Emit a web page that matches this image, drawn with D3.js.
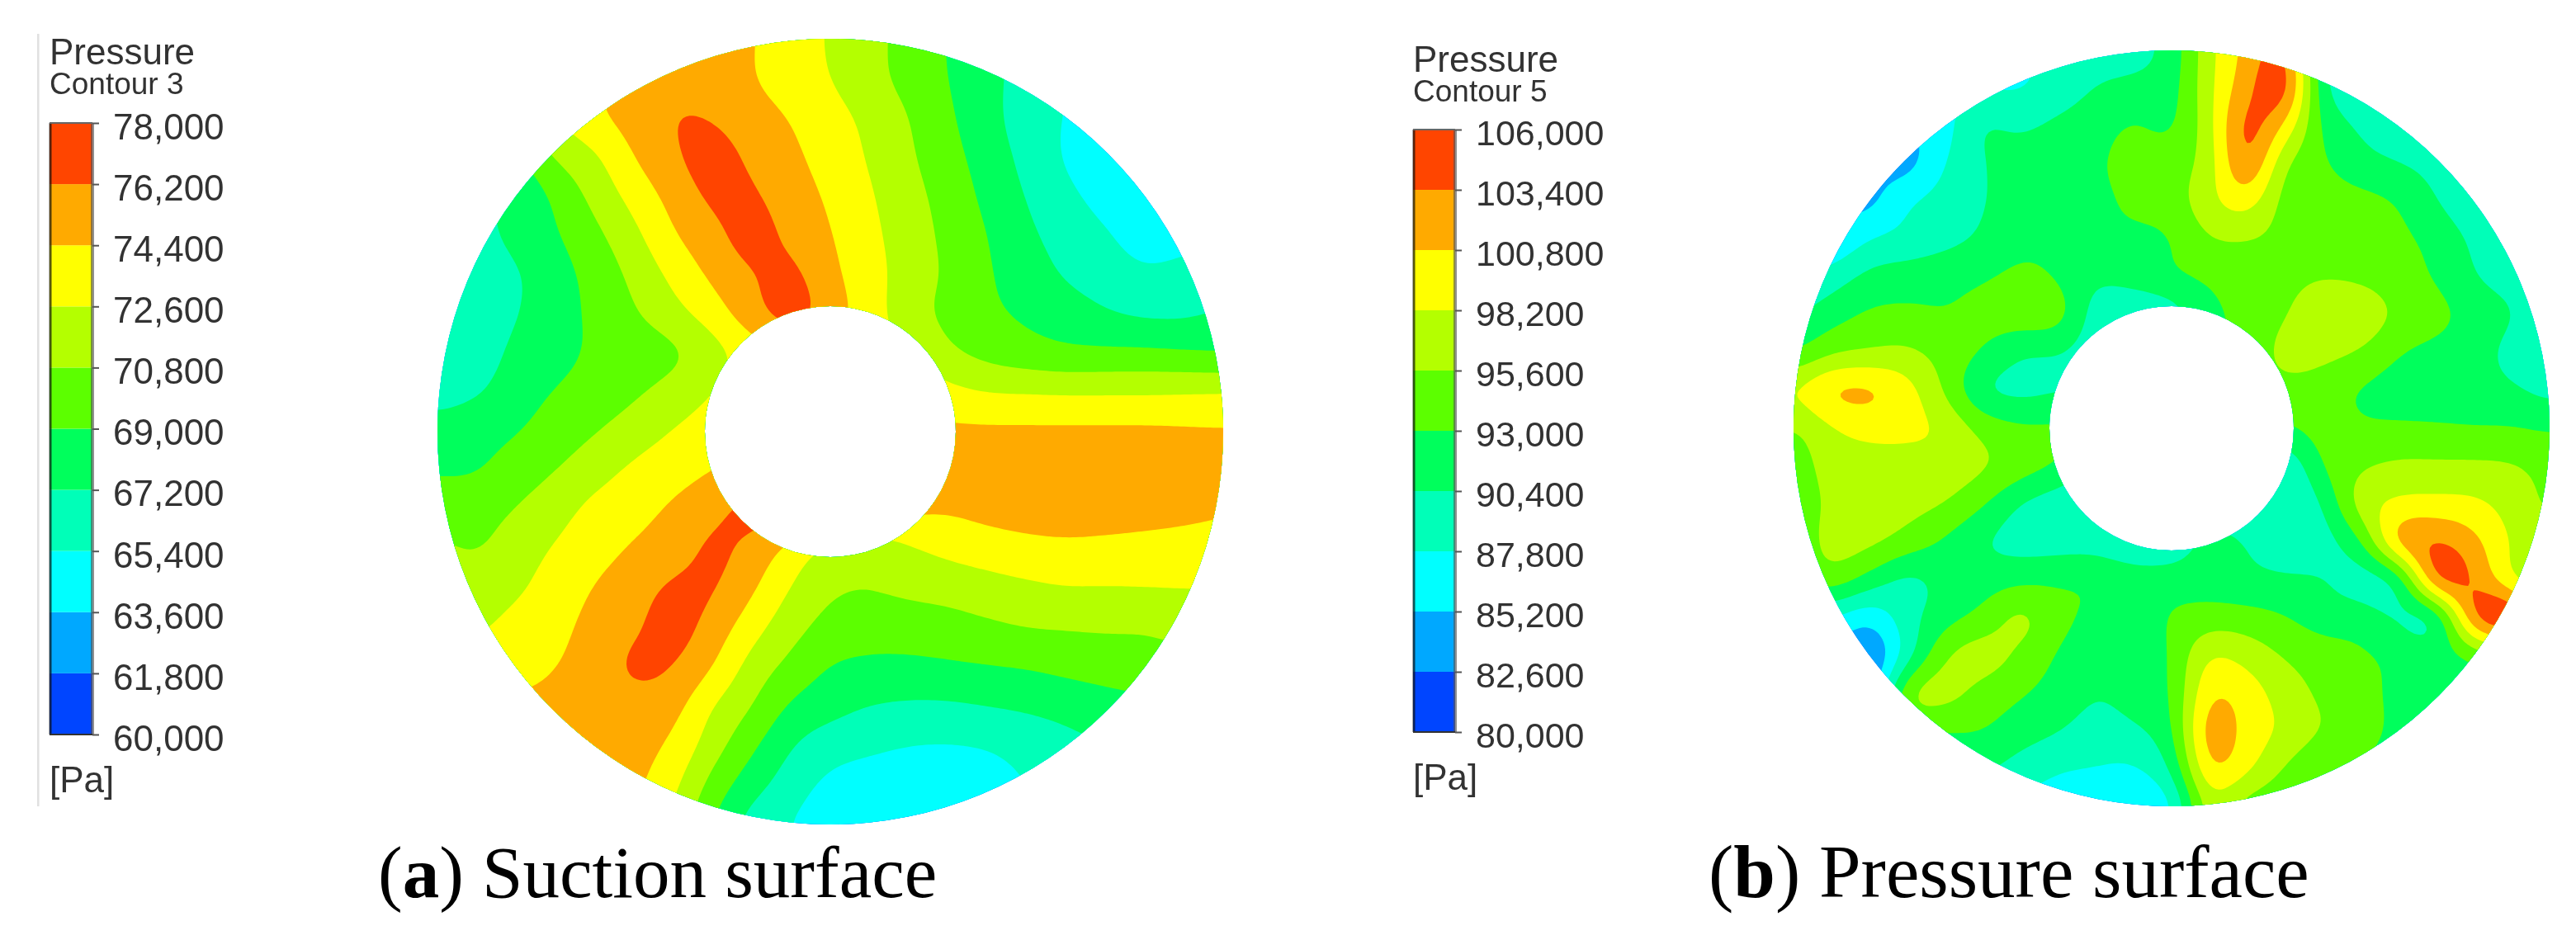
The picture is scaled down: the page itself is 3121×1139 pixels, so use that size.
<!DOCTYPE html>
<html lang="en">

<head>
    <meta charset="UTF-8">
    <title>Pressure contours</title>
    <script src="https://cdn.jsdelivr.net/npm/d3@7"></script>
</head>
<style>
body {
    margin: 0;
    background: #fff;
}

.legend text {
    font-family: "Liberation Sans", Arial, sans-serif;
    fill: #333;
}

.caption {
    font-family: "Liberation Serif", serif;
    fill: #000;
}
</style>

<body>
    <svg width="3121" height="1139"></svg>
</body>
<script>
// band colours, bottom of the legend to the top
var bandColors = ['#0044ff', '#00a8ff', '#00ffff', '#00ffb8', '#00ff5c', '#5cff00', '#b4ff00', '#ffff00', '#ffaa00', '#ff4400'];
var ticksA = [60000, 61800, 63600, 65400, 67200, 69000, 70800, 72600, 74400, 76200, 78000];
var ticksB = [80000, 82600, 85200, 87800, 90400, 93000, 95600, 98200, 100800, 103400, 106000];

// field on a square grid of R/10 spacing, in legend band units
// (4.5 = the middle of the 5th band), nodes off the disc just continue the nearest value
var levelsA = [
    [8, 8, 8, 8, 8.3, 8.6, 8.9, 8.6, 8.05, 7.5, 6.9, 6.3, 5.65, 4.95, 4.3, 3.7, 3, 2.8, 2.6, 2.6, 2.6],
    [7, 7, 7, 7.2, 7.9, 8.4, 8.7, 8.6, 8.05, 7.55, 7, 6.35, 5.66, 5, 4.3, 3.6, 3, 2.7, 2.5, 2.5, 2.5],
    [6, 6, 6, 7, 7.8, 8.4, 9, 8.95, 8.4, 7.95, 7.35, 6.75, 6, 5.15, 4.35, 3.5, 2.95, 2.7, 2.4, 2.4, 2.4],
    [4.5, 4.5, 4.9, 6.1, 6.85, 8, 8.85, 9.4, 8.8, 8.2, 7.6, 6.9, 6.15, 5.35, 4.55, 3.7, 2.9, 2.3, 2.2, 2.2, 2.2],
    [4, 4, 4.2, 5.2, 6.3, 7.35, 8.35, 9.2, 9.15, 8.45, 7.85, 7.1, 6.35, 5.6, 4.75, 3.95, 3.25, 2.65, 2.4, 2.4, 2.4],
    [3.7, 3.7, 4.3, 4.9, 5.75, 6.75, 7.9, 8.7, 9.4, 8.75, 8.05, 7.25, 6.5, 5.75, 5, 4.2, 3.6, 3.1, 2.6, 2.7, 2.8],
    [3.3, 3.3, 3.9, 4.6, 5.35, 6.25, 7.25, 8.2, 8.95, 9.25, 8.25, 7.4, 6.55, 5.85, 5.1, 4.5, 3.9, 3.5, 3.15, 3.3, 3.5],
    [3.2, 3.4, 3.95, 4.6, 5.2, 5.9, 6.65, 7.5, 8.6, 9.4, 8.5, 7.45, 6.45, 5.75, 5.2, 4.85, 4.5, 4.1, 3.85, 3.85, 4.1],
    [3.5, 3.5, 4.25, 4.7, 5.15, 5.45, 5.8, 6.6, 7.5, 8, 8, 7.5, 7, 6.2, 5.7, 5.4, 5.2, 5.2, 5.2, 5.1, 5],
    [3.7, 3.9, 4.55, 5.05, 5.4, 5.85, 6.4, 7, 7.6, 8, 8.1, 8, 7.7, 7.3, 7, 6.95, 6.9, 6.9, 6.9, 6.95, 7],
    [4.35, 4.6, 4.95, 5.45, 5.95, 6.5, 7.05, 7.5, 7.9, 8.1, 8.2, 8.25, 8.25, 8.2, 8.2, 8.2, 8.2, 8.2, 8.2, 8.15, 8.1],
    [4.95, 4.95, 5.5, 6, 6.6, 7.2, 7.6, 8, 8.35, 8.5, 8.6, 8.6, 8.55, 8.5, 8.5, 8.5, 8.5, 8.5, 8.5, 8.45, 8.4],
    [5.4, 5.6, 6.05, 6.6, 7.3, 7.7, 8.15, 8.75, 9.3, 9.1, 8.7, 8.5, 8.2, 8.1, 8.3, 8.45, 8.5, 8.45, 8.35, 8.2, 8.05],
    [6.2, 5.95, 6.5, 7.1, 7.65, 8.1, 8.5, 9.2, 8.7, 7.67, 6.7, 6.3, 6.85, 7.25, 7.47, 7.65, 7.75, 7.7, 7.65, 7.65, 7.7],
    [6.3, 6.5, 6.85, 7.45, 8.05, 8.55, 9.2, 9.1, 8.15, 6.95, 6.15, 6.05, 6.2, 6.35, 6.6, 6.8, 6.95, 6.95, 6.98, 7, 7],
    [6.8, 6.9, 7.3, 7.75, 8.3, 8.85, 9.4, 8.6, 7.4, 6.35, 5.65, 5.4, 5.5, 5.6, 5.8, 6, 6.05, 6.1, 6.1, 6.3, 6.3],
    [7.5, 7.5, 7.5, 8, 8.4, 9.2, 9, 8, 6.6, 5.7, 4.95, 4.8, 4.75, 4.85, 4.95, 5.05, 5.25, 5.4, 5.5, 5.6, 5.6],
    [8.3, 8.3, 8.3, 8.4, 8.5, 8.6, 8.35, 7, 6, 4.85, 4.35, 3.98, 3.85, 3.85, 4, 4.15, 4.35, 4.6, 4.8, 5, 5],
    [8.6, 8.6, 8.6, 8.6, 8.55, 8.4, 7.8, 6.45, 5.2, 4.05, 3.45, 3.2, 3, 2.95, 3.05, 3.35, 3.7, 4, 4.3, 4.3, 4.3],
    [8.4, 8.4, 8.4, 8.4, 8.4, 8.2, 7.25, 5.65, 4.4, 3.5, 2.75, 2.5, 2.4, 2.4, 2.6, 3, 3.4, 3.7, 4, 4, 4],
    [8.2, 8.2, 8.2, 8.2, 8.2, 8, 6.8, 5, 3.6, 3, 2.3, 2.2, 2.2, 2.2, 2.3, 2.8, 3.2, 3.5, 3.8, 3.8, 3.8]
];
var levelsB = [
    [3, 3, 3, 3, 3, 3, 3, 3.2, 3.5, 3.6, 4.4, 6.7, 8.3, 9.2, 4, 3, 3, 3, 3, 3, 3],
    [2.5, 2.5, 2.5, 2.8, 2.9, 2.9, 2.9, 3.4, 4.05, 4.3, 4.6, 6.75, 8.7, 9.6, 4.2, 3.3, 3, 3, 3, 3, 3],
    [2, 2, 2, 2, 2.6, 4.05, 3.85, 4.25, 4.6, 5.1, 4.85, 6.65, 9.4, 7.8, 4.8, 3.85, 3.2, 3, 3, 3, 3],
    [2, 2, 2, 1.6, 3, 3.95, 4.4, 4.6, 4.85, 5.4, 5.5, 6.5, 9.1, 6.1, 5.15, 4.4, 4.05, 3.6, 3, 3, 3],
    [2, 2, 1.7, 2.9, 3.4, 3.95, 4.4, 4.6, 4.75, 5.2, 5.5, 6.7, 7.5, 5.6, 5.4, 5.3, 4.95, 4.05, 3.2, 3, 3],
    [2, 2, 3, 3.3, 3.7, 4.15, 4.75, 4.8, 4.85, 4.8, 4.95, 5.95, 6, 5.7, 5.5, 5.4, 5.2, 4.7, 3.8, 3, 3],
    [3, 3.5, 4.3, 4.55, 4.7, 4.9, 5.2, 4.9, 4.2, 4.5, 4.9, 5.15, 5.5, 5.75, 5.95, 5.8, 5.45, 4.9, 4.05, 3.6, 3.5],
    [3.9, 4.6, 5.15, 5.2, 5.05, 5.3, 5.55, 5.45, 3.5, 3, 3.5, 4.8, 5.2, 5.95, 6.6, 6.7, 5.8, 5.35, 4.6, 4.05, 3.3],
    [5, 5.85, 6.1, 6.2, 5.6, 4.95, 4.1, 4, 3.5, 3.5, 4.5, 5, 5.2, 6.4, 6.3, 5.9, 5.05, 4.7, 4.4, 3.7, 3.3],
    [7, 8.15, 8.25, 7.4, 5.9, 4.05, 3.7, 3.9, 4, 4.5, 5, 5.2, 5.5, 5.6, 5.45, 4.9, 4.6, 4.5, 4.4, 4.15, 3.7],
    [5.9, 6.9, 7.3, 7.25, 6.85, 5.7, 5.2, 5.2, 5, 5, 5, 5, 5, 4.9, 5.4, 5.15, 5.15, 5.12, 5.05, 5.05, 4.9],
    [5.4, 6.5, 6.6, 6.6, 6.6, 6.15, 5.5, 4.9, 4, 3.7, 3.5, 3.5, 3.5, 3.1, 5.05, 5.85, 6.2, 6.2, 6.2, 6.1, 5.7],
    [5.3, 6.25, 6.5, 6.35, 6, 5.1, 3.95, 3.4, 3, 3, 3.2, 3.4, 3.3, 3, 4.05, 6.5, 7.2, 7.3, 7.2, 6.6, 5.8],
    [5.2, 6.4, 6.25, 5.6, 4.85, 4.05, 3.6, 3.55, 3.5, 3, 3.3, 4.3, 3.95, 3.5, 3.6, 4.9, 8.4, 9.1, 8.3, 6.9, 6.3],
    [5, 5.6, 4.6, 3.75, 4.3, 4.5, 4.75, 4.85, 4.9, 4.6, 4.5, 4.5, 4.2, 4.1, 4.05, 3.5, 4.3, 9.2, 8.95, 7.05, 6],
    [3, 3, 2.3, 3.6, 4.6, 5.3, 6.3, 5.3, 4.75, 4.4, 5.1, 5.45, 5.4, 5.05, 4.5, 4.5, 3.85, 4.1, 9.1, 10, 7],
    [2, 2, 0.9, 3.5, 5.9, 6.5, 5.8, 4.9, 4.3, 4.2, 5.1, 7, 6.6, 5.9, 5.5, 5.15, 4.75, 4.5, 5.3, 6, 6],
    [2, 2, 1.4, 5.9, 6.4, 5.6, 5.1, 4.6, 4.05, 4.4, 5, 7.9, 7.5, 6.5, 5.8, 5.4, 4.7, 4.4, 4.4, 4.5, 4.5],
    [4, 4, 4.5, 5, 5, 5, 4.5, 4.05, 3.6, 3.85, 4.8, 8.6, 7.6, 6.8, 5.95, 5.5, 4.7, 4.4, 4.4, 4.4, 4.4],
    [4, 4, 4, 4, 4.2, 4.2, 3.55, 3.1, 3, 2.9, 4.1, 8, 7.2, 5.9, 5.1, 4.9, 4.5, 4.4, 4.4, 4.4, 4.4],
    [3, 3, 3, 3, 3, 3, 2.8, 2.5, 2, 2, 2.8, 6.5, 5.5, 5.2, 5, 4.8, 4.5, 4.4, 4.4, 4.4, 4.4]
];

var svg = d3.select('svg');
var defs = svg.append('defs');
defs.append('filter').attr('id', 'soft').append('feGaussianBlur').attr('stdDeviation', 0.7);

// catmull-rom through the read values, only to round the contours off
function cubic(a, b, c, d, t) {
    return b + 0.5 * t * (c - a + t * (2 * a - 5 * b + 4 * c - d + t * (3 * (b - c) + d - a)));
}

function upsample(rows, n) {
    var m = rows.length - 1;
    var out = new Float64Array(n * n);
    var at = function(j, i) {
        return rows[Math.max(0, Math.min(m, j))][Math.max(0, Math.min(m, i))];
    };
    for (var y = 0; y < n; y++) {
        var gy = y / (n - 1) * m;
        var j = Math.min(m - 1, Math.floor(gy));
        var ty = gy - j;
        for (var x = 0; x < n; x++) {
            var gx = x / (n - 1) * m;
            var i = Math.min(m - 1, Math.floor(gx));
            var tx = gx - i;
            var col = [-1, 0, 1, 2].map(function(k) {
                return cubic(at(j + k, i - 1), at(j + k, i), at(j + k, i + 1), at(j + k, i + 2), tx);
            });
            out[y * n + x] = cubic(col[0], col[1], col[2], col[3], ty);
        }
    }
    return out;
}

function disc(id, rows, ticks, cx, cy, R, r) {
    var n = 241;
    var level = d3.scaleLinear().domain([0, 10]).range([ticks[0], ticks[10]]);
    var fine = upsample(rows, n);
    d3.blur2({ data: fine, width: n, height: n }, 3);
    var values = Array.from(fine, level);
    var sx = d3.scaleLinear().domain([0.5, n - 0.5]).range([cx - R, cx + R]);
    var sy = d3.scaleLinear().domain([0.5, n - 0.5]).range([cy - R, cy + R]);
    var path = d3.geoPath(d3.geoTransform({
        point: function(x, y) {
            this.stream.point(sx(x), sy(y));
        }
    }));
    var color = d3.scaleThreshold().domain(ticks.slice(1, 10)).range(bandColors);

    defs.append('clipPath').attr('id', id)
        .append('path')
        .attr('transform', 'translate(' + cx + ',' + cy + ')')
        .attr('d', d3.arc()({ innerRadius: r, outerRadius: R, startAngle: 0, endAngle: 2 * Math.PI }));

    var contours = d3.contours().size([n, n]).thresholds(ticks.slice(0, 10))(values);
    svg.append('g')
        .attr('clip-path', 'url(#' + id + ')')
        .selectAll('path')
        .data(contours)
        .enter()
        .append('path')
        .attr('d', path)
        .attr('fill', function(d) {
            return color(d.value);
        });
}

function legend(ticks, title, o) {
    var g = svg.append('g').attr('class', 'legend').attr('filter', 'url(#soft)');
    var y = d3.scaleLinear().domain([ticks[0], ticks[10]]).range([o.bottom, o.top]);
    var color = d3.scaleThreshold().domain(ticks.slice(1, 10)).range(bandColors);

    g.append('text').attr('x', o.x).attr('y', o.titleY).attr('font-size', 44).text('Pressure');
    g.append('text').attr('x', o.x).attr('y', o.titleY + 36).attr('font-size', 37).text(title);

    g.selectAll('rect')
        .data(d3.pairs(ticks))
        .enter()
        .append('rect')
        .attr('x', o.x)
        .attr('width', o.w)
        .attr('y', function(d) {
            return y(d[1]);
        })
        .attr('height', function(d) {
            return y(d[0]) - y(d[1]);
        })
        .attr('fill', function(d) {
            return color(d[0]);
        });
    // dark left edge, greyer right edge and top line of the colour bar
    g.append('line').attr('x1', o.x + 1).attr('x2', o.x + 1).attr('y1', o.top).attr('y2', o.bottom)
        .attr('stroke', '#111').attr('stroke-width', 3).attr('stroke-opacity', 0.7);
    g.append('line').attr('x1', o.x + o.w).attr('x2', o.x + o.w).attr('y1', o.top).attr('y2', o.bottom)
        .attr('stroke', '#555').attr('stroke-width', 4).attr('stroke-opacity', 0.65);
    g.append('line').attr('x1', o.x).attr('x2', o.x + o.w).attr('y1', o.top).attr('y2', o.top)
        .attr('stroke', '#666').attr('stroke-width', 2);
    g.append('line').attr('x1', o.x).attr('x2', o.x + o.w).attr('y1', o.bottom).attr('y2', o.bottom)
        .attr('stroke', '#333').attr('stroke-width', 2);

    var axis = d3.axisRight(y).tickValues(ticks).tickFormat(d3.format(',')).tickSize(8).tickPadding(17);
    var ax = g.append('g').attr('transform', 'translate(' + (o.x + o.w) + ',0)').call(axis);
    ax.select('.domain').remove();
    ax.selectAll('line').attr('stroke', '#555').attr('stroke-width', 2);
    ax.selectAll('text').attr('font-size', o.fs).attr('dy', '0.44em').attr('font-family', null);

    g.append('text').attr('x', o.x).attr('y', o.unitY).attr('font-size', 44).text('[Pa]');
}

svg.append('rect').attr('x', 45).attr('y', 41).attr('width', 2.5).attr('height', 936).attr('fill', '#e0e0e0');

disc('clipA', levelsA, ticksA, 1006, 523, 476, 152);
disc('clipB', levelsB, ticksB, 2631, 519, 458, 148);

legend(ticksA, 'Contour 3', { x: 60, w: 52, top: 149, bottom: 890, titleY: 78, unitY: 960, fs: 44 });
legend(ticksB, 'Contour 5', { x: 1712, w: 51, top: 157, bottom: 887, titleY: 87, unitY: 957, fs: 43 });

// captions
function caption(x, letter, rest, fs) {
    var t = svg.append('text').attr('class', 'caption').attr('x', x).attr('y', 1087).attr('font-size', fs);
    t.append('tspan').text('(');
    t.append('tspan').attr('font-weight', 'bold').text(letter);
    t.append('tspan').text(') ' + rest);
}
caption(458, 'a', 'Suction surface', 89);
caption(2070, 'b', 'Pressure surface', 91);
</script>

</html>
